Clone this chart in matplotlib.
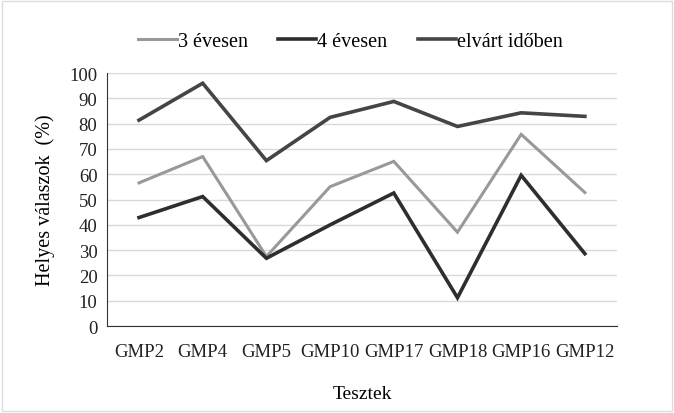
import matplotlib
matplotlib.use('Agg')
import matplotlib.pyplot as plt
from matplotlib.patches import Rectangle

categories = ['GMP2', 'GMP4', 'GMP5', 'GMP10', 'GMP17', 'GMP18', 'GMP16', 'GMP12']
ev3 = [56.6, 67, 27.5, 55.1, 65.1, 37.1, 75.8, 52.8]
ev4 = [42.9, 51.2, 26.8, 40.0, 52.6, 11.2, 59.6, 28.6]
elvart = [81.4, 96, 65.4, 82.5, 88.8, 78.9, 84.3, 82.9]

plt.rcParams['font.family'] = ['Liberation Serif', 'DejaVu Serif']

fig = plt.figure(figsize=(6.74, 4.14), dpi=100)
ax = fig.add_axes([0.159, 0.21, 0.756, 0.611])

x = range(len(categories))
ax.plot(x, ev3, color='#999999', lw=2.2, label='3 évesen', solid_joinstyle='miter')
ax.plot(x, ev4, color='#2e2e2e', lw=2.6, label='4 évesen', solid_joinstyle='miter')
ax.plot(x, elvart, color='#454545', lw=2.6, label='elvárt időben', solid_joinstyle='miter')

ax.set_xlim(-0.5, len(categories) - 0.5)
ax.set_ylim(0, 100)
ax.set_yticks(range(0, 101, 10))
ax.set_xticks(list(x))
ax.set_xticklabels(categories)
ax.tick_params(axis='both', length=0, labelsize=13.5, colors='#222222')
ax.tick_params(axis='x', pad=12)
ax.tick_params(axis='y', pad=7)
ax.grid(axis='y', color='#d9d9d9', lw=1)
ax.set_axisbelow(True)
for side in ['top', 'right']:
    ax.spines[side].set_visible(False)
ax.spines['left'].set_color('#333333')
ax.spines['bottom'].set_color('#333333')

ax.set_ylabel('Helyes válaszok  (%)', fontsize=14.5, labelpad=10)
ax.set_xlabel('Tesztek', fontsize=14, labelpad=18)

fig.legend(loc='upper center', bbox_to_anchor=(0.52, 0.965), ncol=3,
           frameon=False, fontsize=14.5, handlelength=1.9, handletextpad=0.05,
           columnspacing=1.5)

fig.patches.append(Rectangle((0.003, 0.005), 0.994, 0.99, transform=fig.transFigure,
                             fill=False, edgecolor='#dddddd', lw=1))

fig.savefig('out.png', dpi=100)
